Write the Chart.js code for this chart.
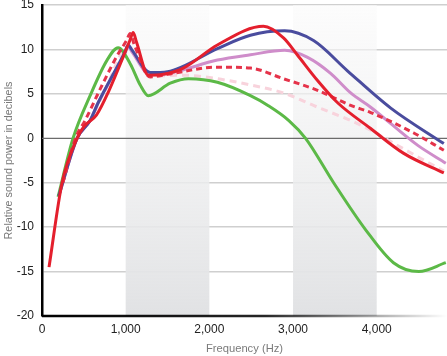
<!DOCTYPE html>
<html>
<head>
<meta charset="utf-8">
<script src="https://cdn.jsdelivr.net/npm/chart.js@4.4.1/dist/chart.umd.min.js"></script>
<style>
html,body{margin:0;padding:0;background:#fff;}
#wrap{width:447px;height:356px;position:relative;}
</style>
</head>
<body>
<div id="wrap"><canvas id="c" width="447" height="356"></canvas></div>
<script>
// Frequency (Hz) and relative sound power (dB)
const greenFreq = [192, 371, 575, 778, 910, 1054, 1174, 1270, 1533, 1750, 2096, 2491, 2700, 2950, 3150, 3485, 3868, 4200, 4503, 4826];
const greenDb   = [-6.6, 0, 4.8, 8.8, 10.2, 8.4, 6.0, 4.8, 6.2, 6.7, 6.3, 4.8, 3.7, 2.0, 0, -5, -10.3, -14, -15, -14];

const redFreq = [84, 240, 419, 500, 650, 802, 1050, 1090, 1130, 1270, 1450, 1689, 2096, 2647, 2886, 3050, 3293, 3533, 3928, 4323, 4802];
const redDb   = [-14.5, -5, 0, 1.3, 2.6, 5.4, 11.0, 11.9, 10.8, 7.1, 7.2, 7.9, 10.5, 12.6, 11.3, 9.4, 6.5, 4.0, 1.1, -1.7, -3.9];

const blueFreq = [200, 419, 575, 671, 990, 1030, 1070, 1293, 1500, 2096, 2491, 2900, 3245, 3650, 4168, 4802];
const blueDb   = [-6.5, 0, 2.0, 4.0, 9.7, 10.5, 10.0, 7.4, 7.5, 10.1, 11.6, 12.1, 11.0, 7.6, 3.4, -0.6];

const purpleFreq = [200, 419, 575, 671, 990, 1030, 1070, 1293, 1500, 2096, 2491, 2900, 3174, 3449, 3689, 3928, 4491, 4826];
const purpleDb   = [-6.5, 0, 2.0, 4.0, 9.5, 10.3, 9.8, 7.2, 7.3, 8.8, 9.4, 9.9, 9.1, 7.3, 5.1, 3.5, -0.8, -2.8];

const redDashFreq = [250, 400, 515, 719, 898, 1010, 1054, 1100, 1293, 1500, 2096, 2491, 2886, 3293, 3689, 3928, 4443, 4802];
const redDashDb   = [-5, 0, 2.0, 6.0, 9.3, 11.0, 11.8, 10.6, 6.9, 7.2, 8.0, 7.9, 6.7, 5.4, 3.7, 2.9, 0.6, -1.35];

const pinkDashFreq = [300, 419, 575, 754, 1030, 1293, 1689, 2096, 2491, 2886, 3293, 3689, 3928, 4323, 4802];
const pinkDashDb   = [-3, 0, 2.0, 5.4, 10.3, 7.0, 7.1, 6.7, 6.0, 5.1, 3.5, 2.0, 0.9, -1.2, -3.7];

const xTicks = [0, 1000, 2000, 3000, 4000];
const yTicks = [-20, -15, -10, -5, 0, 5, 10, 15];
const bands = [[1000, 2000], [3000, 4000]];

function pts(fx, fy){ return fx.map((f,i)=>({x:f, y:fy[i]})); }

const FONT = "'Liberation Sans', Arial, sans-serif";

const bandPlugin = {
  id: 'bands',
  beforeDatasetsDraw(chart){
    const {ctx, chartArea:a, scales:{x,y}} = chart;
    ctx.save();
    bands.forEach(([s,e])=>{
      const x0 = x.getPixelForValue(s), x1 = x.getPixelForValue(e);
      const g = ctx.createLinearGradient(0, a.top, 0, a.bottom);
      g.addColorStop(0, 'rgba(250,250,250,0.6)');
      g.addColorStop(1, 'rgba(225,226,228,1)');
      ctx.fillStyle = g;
      ctx.fillRect(x0, a.top, x1 - x0, a.bottom - a.top);
    });
    const y0 = y.getPixelForValue(0);
    ctx.strokeStyle = '#6b6b6b';
    ctx.lineWidth = 1.2;
    ctx.beginPath(); ctx.moveTo(a.left, y0); ctx.lineTo(a.right, y0); ctx.stroke();
    const yb = y.getPixelForValue(-20);
    const gb = ctx.createLinearGradient(a.left, 0, a.right, 0);
    gb.addColorStop(0, 'rgba(0,0,0,1)');
    gb.addColorStop(0.55, 'rgba(0,0,0,0.85)');
    gb.addColorStop(1, 'rgba(0,0,0,0)');
    ctx.strokeStyle = gb;
    ctx.lineWidth = 2.5;
    ctx.beginPath(); ctx.moveTo(a.left, yb); ctx.lineTo(a.right, yb); ctx.stroke();
    ctx.restore();
  }
};

const common = {fill:false, pointRadius:0, borderWidth:3, cubicInterpolationMode:'monotone', borderJoinStyle:'round', borderCapStyle:'butt'};

new Chart(document.getElementById('c'), {
  type: 'line',
  data: {
    datasets: [
      Object.assign({label:'red', data: pts(redFreq, redDb), borderColor:'#e41f2d', order:0}, common),
      Object.assign({label:'red dashed', data: pts(redDashFreq, redDashDb), borderColor:'#e5334a', borderDash:[6,4], order:1}, common),
      Object.assign({label:'blue', data: pts(blueFreq, blueDb), borderColor:'#4a4c9e', order:2}, common),
      Object.assign({label:'green', data: pts(greenFreq, greenDb), borderColor:'#5cb947', order:3}, common),
      Object.assign({label:'purple', data: pts(purpleFreq, purpleDb), borderColor:'#cf8dca', order:4}, common),
      Object.assign({label:'pink dashed', data: pts(pinkDashFreq, pinkDashDb), borderColor:'#f8d3dc', borderDash:[7,5], order:5}, common)
    ]
  },
  options: {
    responsive:false, animation:false, devicePixelRatio:1,
    layout:{padding:{top:5, right:0, left:0, bottom:0}},
    plugins:{legend:{display:false}, tooltip:{enabled:false}},
    scales:{
      x:{
        type:'linear', min:0, max:4840,
        afterBuildTicks(s){ s.ticks = xTicks.map(v=>({value:v})); },
        afterFit(s){ s.height = 40; s.paddingLeft = 0; s.paddingRight = 0; },
        grid:{display:false, drawTicks:false},
        border:{display:false},
        ticks:{color:'#222', font:{family:FONT, size:12}, padding:6,
          callback:(v)=>v.toLocaleString('en-US')},
        title:{display:true, text:'Frequency (Hz)', color:'#7a7a7a', font:{family:FONT, size:11.2}, padding:{top:2, bottom:0}}
      },
      y:{
        min:-20, max:15,
        afterBuildTicks(s){ s.ticks = yTicks.map(v=>({value:v})); },
        afterFit(s){ s.width = 42; s.paddingTop = 0; s.paddingBottom = 0; },
        grid:{drawTicks:false, lineWidth:1.5,
          color:(c)=> (c.tick && (c.tick.value===0 || c.tick.value===-20)) ? 'rgba(0,0,0,0)' : '#cfcfcf'},
        border:{display:true, color:'#000', width:2.5},
        ticks:{color:'#222', font:{family:FONT, size:12}, padding:8},
        title:{display:true, text:'Relative sound power in decibels', color:'#7a7a7a', font:{family:FONT, size:10.8}, padding:{top:3,bottom:0}}
      }
    }
  },
  plugins:[bandPlugin]
});
</script>
</body>
</html>
